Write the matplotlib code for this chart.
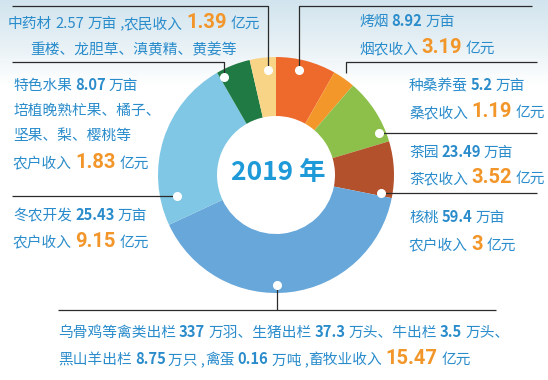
import numpy as np
import matplotlib
matplotlib.use("Agg")
import matplotlib.pyplot as plt
from matplotlib.colors import LinearSegmentedColormap

W, H = 548, 380

# ---------------- data ----------------
categories = ["烤烟", "种桑养蚕", "茶园", "核桃", "畜牧业", "冬农开发", "特色水果", "中药材"]
income = [3.19, 1.19, 3.52, 3.0, 15.47, 9.15, 1.83, 1.39]  # 亿元
area = ["8.92", "5.2", "23.49", "59.4", None, "25.43", "8.07", "2.57"]  # 万亩
income_labels = ["3.19", "1.19", "3.52", "3", "15.47", "9.15", "1.83", "1.39"]
colors = ["#EE6A2C", "#F4972B", "#8DC04B", "#B2512B", "#67A7DA", "#80C7E5", "#1F7A44", "#F8D486"]
center_label = "2019 年"

BLUE = "#2A8CCB"
ORANGE = "#F2962A"
LINE = "#2b2b2b"
CJK = ["Noto Sans CJK SC", "DejaVu Sans"]
NUMF = ["Roboto", "DejaVu Sans"]
FS = 10.6

fig = plt.figure(figsize=(W / 100, H / 100), dpi=100)
ax = fig.add_axes([0, 0, 1, 1])

# background: light sky band at top
grad = np.linspace(0, 1, 200)[:, None]
cmap = LinearSegmentedColormap.from_list("sky", ["#d2e4ee", "#e6f0f5", "#ffffff"])
ax.imshow(grad * np.ones((1, 10)), extent=(0, W, H - 85, H), origin="upper",
          cmap=cmap, aspect="auto", zorder=0)

# donut
cx, cy, R = 276, H - 175, 118
wedges, _ = ax.pie(income, colors=colors, startangle=90, counterclock=False,
                   radius=R, center=(cx, cy),
                   wedgeprops=dict(width=R * 0.5, linewidth=0))
for w in wedges:
    w.set_zorder(2)
ax.set_xlim(0, W)
ax.set_ylim(0, H)
ax.set_aspect("auto")
ax.axis("off")

ax.text(278.5, H - 173, center_label, ha="center", va="center", fontsize=19,
        color="#1E9AD8", family=CJK, weight="bold", zorder=5)

renderer = fig.canvas.get_renderer()


def run(x, ytop, pieces):
    y = H - ytop
    for text, kind in pieces:
        if kind == "t":
            kw = dict(fontsize=FS, color=BLUE, family=CJK)
        elif kind == "n":
            kw = dict(fontsize=FS, color=BLUE, family=CJK, weight="bold")
        elif kind == "r":
            kw = dict(fontsize=FS, color=BLUE, family=CJK)
        elif kind == "o":
            kw = dict(fontsize=14.5, color=ORANGE, family=NUMF, weight="bold")
        elif kind == "k":
            kw = dict(fontsize=FS, color=BLUE, family=CJK, weight="light")
        elif kind == "g":
            x += float(text)
            continue
        t = ax.text(x, y, text, ha="left", va="baseline", zorder=5, **kw)
        x += t.get_window_extent(renderer).width


def line(xs, ys):
    ax.plot(xs, [H - v for v in ys], color=LINE, lw=0.9, zorder=3,
            solid_capstyle="butt")


def dot(x, y):
    ax.plot([x], [H - y], "o", ms=5.5, color="white", zorder=6)


# leaders (layout, in pixels from the top-left corner)
line([12, 268, 268], [6, 6, 70]); dot(268, 70)            # 中药材
line([12, 224, 224], [62, 62, 77]); dot(224, 77)          # 特色水果
line([12, 177], [196, 196]); dot(177, 196)                # 冬农开发
line([58, 496], [310, 310]); line([277, 277], [285, 310]); dot(277, 285)  # 畜牧
line([381, 537], [193, 193]); dot(381, 193)               # 核桃
line([379, 537], [133, 133]); dot(379, 133)               # 茶园
line([537, 346, 346], [62, 62, 73])                       # 种桑养蚕
line([532, 299, 299], [6, 6, 70]); dot(299, 70)           # 烤烟

G = ("3", "g")
run(8, 28, [("中药材", "t"), G, (area[7], "r"), G, ("万亩", "t"),
            (" ,", "t"), ("农民收入", "t"), G, (income_labels[7], "o"),
            ("4", "g"), ("亿元", "t")])
run(30, 54, [("重楼、龙胆草、滇黄精、黄姜等", "k")])

run(13, 90, [("特色水果", "t"), G, (area[6], "n"), G, ("万亩", "t")])
run(13, 115, [("培植晚熟杧果、橘子、", "k")])
run(13, 140, [("坚果、梨、樱桃等", "k")])
run(13, 168, [("农户收入", "t"), G, (income_labels[6], "o"), ("4", "g"), ("亿元", "t")])

run(13, 220, [("冬农开发", "t"), G, (area[5], "n"), G, ("万亩", "t")])
run(13, 247, [("农户收入", "t"), G, (income_labels[5], "o"), ("4", "g"), ("亿元", "t")])

run(58, 337, [("乌骨鸡等禽类出栏", "t"), G, ("337", "n"), G, ("万羽、生猪出栏", "t"),
              G, ("37.3", "n"), G, ("万头、牛出栏", "t"), G,
              ("3.5", "n"), G, ("万头、", "t")])
run(58, 364, [("黑山羊出栏", "t"), G, ("8.75", "n"), G, ("万只 ,", "t"),
              ("禽蛋", "t"), G, ("0.16", "n"), G, ("万吨 ,", "t"),
              ("畜牧业收入", "t"), G, (income_labels[4], "o"), ("4", "g"), ("亿元", "t")])

run(409, 222, [("核桃", "t"), G, (area[3], "n"), G, ("万亩", "t")])
run(409, 250, [("农户收入", "t"), G, (income_labels[3], "o"), ("4", "g"), ("亿元", "t")])

run(409, 157, [("茶园", "t"), G, (area[2], "n"), G, ("万亩", "t")])
run(409, 183, [("茶农收入", "t"), G, (income_labels[2], "o"), ("4", "g"), ("亿元", "t")])

run(409, 90, [("种桑养蚕", "t"), G, (area[1], "n"), G, ("万亩", "t")])
run(409, 117, [("桑农收入", "t"), G, (income_labels[1], "o"), ("4", "g"), ("亿元", "t")])

run(359, 26, [("烤烟", "t"), G, (area[0], "n"), G, ("万亩", "t")])
run(359, 53, [("烟农收入", "t"), G, (income_labels[0], "o"), ("4", "g"), ("亿元", "t")])

fig.savefig("out.png", dpi=100)
